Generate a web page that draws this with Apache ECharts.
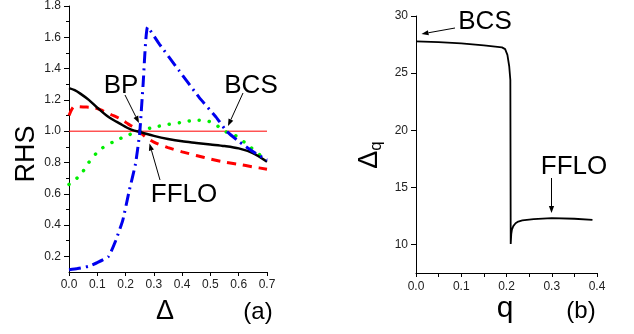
<!DOCTYPE html>
<html><head><meta charset="utf-8">
<script src="https://cdn.jsdelivr.net/npm/echarts@6/dist/echarts.min.js"></script>
<style>html,body{margin:0;padding:0;background:#fff}#c{width:634px;height:334px}</style>
</head><body><div id="c"></div>
<script>
// ---- Panel (a) data ----
const blackX = [0, 0.02, 0.04, 0.07, 0.1, 0.14, 0.18, 0.22, 0.26, 0.3, 0.35, 0.4, 0.45, 0.5, 0.55, 0.6, 0.65, 0.7];
const blackY = [1.275, 1.262, 1.24, 1.2, 1.15, 1.09, 1.048, 1.01, 0.99, 0.97, 0.95, 0.935, 0.925, 0.915, 0.905, 0.89, 0.86, 0.805];
const redX = [0, 0.01, 0.02, 0.05, 0.09, 0.12, 0.15, 0.18, 0.21, 0.24, 0.27, 0.3, 0.35, 0.4, 0.45, 0.5, 0.55, 0.6, 0.65, 0.7];
const redY = [1.1, 1.14, 1.158, 1.155, 1.15, 1.13, 1.105, 1.08, 1.045, 1.01, 0.965, 0.93, 0.895, 0.868, 0.845, 0.822, 0.803, 0.788, 0.772, 0.757];
const greenX = [0, 0.04, 0.07, 0.11, 0.16, 0.21, 0.255, 0.3, 0.35, 0.4, 0.45, 0.49, 0.52, 0.55, 0.59, 0.64, 0.69, 0.7];
const greenY = [0.66, 0.72, 0.8, 0.882, 0.935, 0.975, 1.005, 1.025, 1.043, 1.057, 1.07, 1.065, 1.04, 1.0, 0.97, 0.9, 0.825, 0.81];
const blueX = [0, 0.03, 0.07, 0.1, 0.14, 0.165, 0.19, 0.213, 0.235, 0.25, 0.262, 0.278, 0.32, 0.39, 0.46, 0.52, 0.557, 0.6, 0.65, 0.7];
const blueY = [0.115, 0.122, 0.137, 0.16, 0.2, 0.3, 0.43, 0.62, 0.79, 0.99, 1.3, 1.665, 1.555, 1.385, 1.216, 1.09, 1.0, 0.935, 0.87, 0.815];
const refX = [0, 0.7];
const refY = [1.0, 1.0];
const aXTicks = [0, 0.1, 0.2, 0.3, 0.4, 0.5, 0.6, 0.7];
const aYTicks = [0.2, 0.4, 0.6, 0.8, 1.0, 1.2, 1.4, 1.6, 1.8];
const aYMinor = [0.3, 0.5, 0.7, 0.9, 1.1, 1.3, 1.5, 1.7];

// ---- Panel (b) data ----
const qX = [0, 0.05, 0.1, 0.15, 0.19, 0.197, 0.202, 0.206, 0.2085, 0.2093, 0.2105, 0.212, 0.215, 0.22, 0.226, 0.235, 0.245, 0.26, 0.3, 0.35, 0.39];
const dqY = [27.78, 27.72, 27.6, 27.42, 27.25, 27.1, 26.6, 25.6, 24.4, 10.05, 10.9, 11.3, 11.6, 11.85, 12.0, 12.1, 12.15, 12.22, 12.3, 12.25, 12.15];
const bXTicks = [0, 0.1, 0.2, 0.3, 0.4];
const bYTicks = [10, 15, 20, 25, 30];

const zip = (xs, ys) => xs.map((x, i) => [x, ys[i]]);
const FONT = '"Liberation Sans", Arial, sans-serif';
const tickLbl = {color: '#222', fontSize: 12, fontFamily: FONT};

function arrow(x1, y1, x2, y2) {
  const a = Math.atan2(y2 - y1, x2 - x1), L = 7, W = 2.6;
  const bx = x2 - L * Math.cos(a), by = y2 - L * Math.sin(a);
  const px = -Math.sin(a) * W, py = Math.cos(a) * W;
  return [
    {type: 'line', shape: {x1, y1, x2: bx, y2: by}, style: {stroke: '#000', lineWidth: 1}},
    {type: 'polygon', shape: {points: [[x2, y2], [bx + px, by + py], [bx - px, by - py]]}, style: {fill: '#000'}}
  ];
}
function txt(x, y, text, size, extra) {
  return Object.assign({type: 'text', x, y, style: {text, font: size + 'px ' + FONT, fill: '#000', align: 'center', verticalAlign: 'middle'}}, extra || {});
}

const chart = echarts.init(document.getElementById('c'), null, {renderer: 'canvas'});
const axLine = {lineStyle: {color: '#000', width: 1}};
chart.setOption({
  animation: false,
  backgroundColor: '#fff',
  grid: [
    {left: 69, top: 5, width: 198, height: 267},
    {left: 416, top: 16, width: 181, height: 257}
  ],
  xAxis: [
    {gridIndex: 0, type: 'value', min: 0, max: 0.7, interval: 0.1,
     axisLine: axLine, axisTick: {length: 4, lineStyle: {color: '#000'}},
     axisLabel: Object.assign({margin: 7, formatter: v => v.toFixed(1), customValues: aXTicks}, tickLbl),
     splitLine: {show: false}},
    {gridIndex: 1, type: 'value', min: 0, max: 0.4, interval: 0.1,
     axisLine: axLine, axisTick: {length: 4, lineStyle: {color: '#000'}},
     minorTick: {show: true, splitNumber: 2, length: 4, lineStyle: {color: '#000'}},
     axisLabel: Object.assign({margin: 8, formatter: v => v.toFixed(1), customValues: bXTicks}, tickLbl),
     splitLine: {show: false}}
  ],
  yAxis: [
    {gridIndex: 0, type: 'value', position: 'left', min: 0.1, max: 1.8,
     axisLine: axLine,
     axisTick: {length: 5, customValues: aYTicks, lineStyle: {color: '#000'}},
     axisLabel: Object.assign({margin: 8, formatter: v => v.toFixed(1), customValues: aYTicks}, tickLbl),
     splitLine: {show: false}},
    {gridIndex: 0, type: 'value', position: 'left', offset: 0, min: 0.1, max: 1.8,
     axisLine: {show: false},
     axisTick: {length: 3, customValues: aYMinor, lineStyle: {color: '#000'}},
     axisLabel: {show: false}, splitLine: {show: false}},
    {gridIndex: 1, type: 'value', position: 'left', min: 7.5, max: 30,
     axisLine: axLine,
     axisTick: {length: 5, customValues: bYTicks, lineStyle: {color: '#000'}},
     axisLabel: Object.assign({margin: 8, customValues: bYTicks}, tickLbl),
     splitLine: {show: false}}
  ],
  series: [
    {type: 'line', xAxisIndex: 0, yAxisIndex: 0, data: zip(refX, refY), symbol: 'none',
     lineStyle: {color: '#ff0000', width: 1}, z: 1},
    {type: 'line', xAxisIndex: 0, yAxisIndex: 0, data: zip(greenX, greenY), symbol: 'none', smooth: 0.3,
     lineStyle: {color: '#00ee00', width: 3.5, type: [0.1, 10], cap: 'round'}, z: 2},
    {type: 'line', xAxisIndex: 0, yAxisIndex: 0, data: zip(redX, redY), symbol: 'none', smooth: 0.3,
     lineStyle: {color: '#ff0000', width: 3, type: [9, 7]}, z: 3},
    {type: 'line', xAxisIndex: 0, yAxisIndex: 0, data: zip(blackX, blackY), symbol: 'none', smooth: 0.3,
     lineStyle: {color: '#000', width: 2.5}, z: 4},
    {type: 'line', xAxisIndex: 0, yAxisIndex: 0, data: zip(blueX, blueY), symbol: 'none', smooth: 0.15,
     lineStyle: {color: '#0000ee', width: 3, type: [12, 5, 2, 5]}, z: 5},
    {type: 'line', xAxisIndex: 1, yAxisIndex: 2, data: zip(qX, dqY), symbol: 'none',
     lineStyle: {color: '#000', width: 1.8}}
  ],
  graphic: [].concat(
    [txt(121, 86, 'BP', 26), txt(251, 86, 'BCS', 26), txt(184, 195, 'FFLO', 26),
     txt(27, 154, 'RHS', 27, {rotation: Math.PI / 2}),
     txt(165, 312, 'Δ', 27), txt(258, 312, '(a)', 24),
     txt(485, 22, 'BCS', 26), txt(574, 167, 'FFLO', 26),
     txt(505, 309, 'q', 30), txt(581, 311, '(b)', 24),
     {type: 'text', x: 370, y: 155, rotation: Math.PI / 2,
      style: {text: '{a|Δ}{b|q}', align: 'center', verticalAlign: 'middle',
        rich: {a: {font: '27px ' + FONT, fill: '#000'}, b: {font: '17px ' + FONT, fill: '#000', padding: [12, 0, 0, 0]}}}}],
    arrow(125, 95, 139, 123), arrow(243, 93, 228, 126), arrow(160, 180, 149.5, 143.5),
    arrow(455, 28, 421.5, 34), arrow(551.5, 178, 551.5, 213)
  )
});
</script></body></html>
